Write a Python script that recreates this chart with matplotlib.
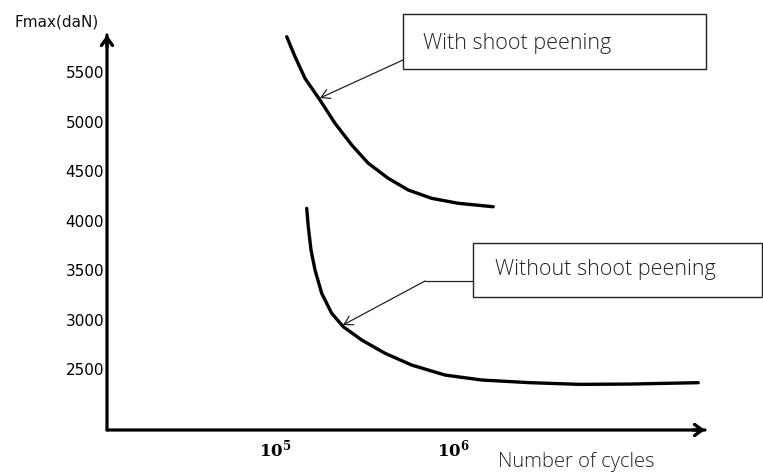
import matplotlib
matplotlib.use("Agg")
import matplotlib.pyplot as plt
from matplotlib.patches import Rectangle

# ---- data ----
with_cycles = [116350, 129600, 147400, 178900, 217400, 269700, 334400,
               433000, 561000, 759000, 1071000, 1684000]
with_force = [5857, 5655, 5436, 5217, 4982, 4763, 4578, 4426, 4308, 4224,
              4174, 4139]

without_cycles = [150700, 153800, 159300, 167800, 182900, 208200, 241900,
                  307000, 415000, 586000, 902000, 1449000, 2707000, 5170000,
                  9872000, 23880000]
without_force = [4123, 3937, 3702, 3500, 3265, 3063, 2927, 2793, 2659, 2540,
                 2439, 2389, 2362, 2345, 2348, 2362]

y_ticks = [2500, 3000, 3500, 4000, 4500, 5000, 5500]
x_ticks = [1e5, 1e6]
x_tick_labels = [r"$\mathbf{10^5}$", r"$\mathbf{10^6}$"]

label_with = "With shoot peening"
label_without = "Without shoot peening"

W, H = 763, 472
fig = plt.figure(figsize=(W / 100, H / 100), dpi=100)
plt.rcParams["mathtext.fontset"] = "dejavuserif"

def fx(px):
    return px / W

def fy(py):
    return 1 - py / H

left, right, top, bottom = 107, 705, 35, 430
ax = fig.add_axes([fx(left), fy(bottom), fx(right) - fx(left), fy(top) - fy(bottom)])
ax.set_xscale("log")
ax.set_xlim(10 ** 4.056, 10 ** 7.416)
ax.set_ylim(1884, 5874)
for s in ax.spines.values():
    s.set_visible(False)
ax.set_facecolor("none")

ax.plot(with_cycles, with_force, color="black", lw=2.4, solid_capstyle="round",
        solid_joinstyle="round")
ax.plot(without_cycles, without_force, color="black", lw=2.4, solid_capstyle="round",
        solid_joinstyle="round")

ax.set_yticks(y_ticks)
ax.set_yticklabels([str(v) for v in y_ticks], fontsize=11, family="DejaVu Sans")
ax.set_xticks(x_ticks)
ax.set_xticklabels(x_tick_labels, fontsize=12)
ax.xaxis.set_minor_locator(matplotlib.ticker.NullLocator())
ax.tick_params(axis="y", length=0, pad=2)
ax.tick_params(axis="x", length=0, pad=6)

# axis arrows
ax.annotate("", xy=(0, 1.0), xytext=(0, 0), xycoords="axes fraction",
            arrowprops=dict(arrowstyle="-", lw=2.3, color="black", shrinkA=0, shrinkB=0))
ax.annotate("", xy=(1.0, 0), xytext=(0, 0), xycoords="axes fraction",
            arrowprops=dict(arrowstyle="-", lw=2.3, color="black", shrinkA=0, shrinkB=0))
ax.annotate("", xy=(0, 1.0), xytext=(0, 0.97), xycoords="axes fraction",
            arrowprops=dict(arrowstyle="->,head_length=0.55,head_width=0.4", lw=2.4,
                            color="black", shrinkA=0, shrinkB=0))
ax.annotate("", xy=(1.0, 0), xytext=(0.98, 0), xycoords="axes fraction",
            arrowprops=dict(arrowstyle="->,head_length=0.55,head_width=0.4", lw=2.4,
                            color="black", shrinkA=0, shrinkB=0))

fig.text(fx(15), fy(22), "Fmax(daN)", fontsize=11, family="DejaVu Sans",
         va="center", ha="left", color="#111111")
fig.text(fx(498), fy(462), "Number of cycles", fontsize=14.5, family="Open Sans",
         fontweight="light", va="center", ha="left", color="#222222")

# annotation boxes
fig.patches.append(Rectangle((fx(403), fy(69)), fx(706) - fx(403), fy(14) - fy(69),
                             transform=fig.transFigure, fill=False, lw=1.0,
                             edgecolor="#222222"))
fig.text(fx(423), fy(43), label_with, fontsize=15.5, family="Open Sans",
         fontweight="light", va="center", ha="left", color="#222222")
fig.patches.append(Rectangle((fx(473), fy(297)), fx(762) - fx(473), fy(243) - fy(297),
                             transform=fig.transFigure, fill=False, lw=1.0,
                             edgecolor="#222222"))
fig.text(fx(495), fy(269), label_without, fontsize=15.5, family="Open Sans",
         fontweight="light", va="center", ha="left", color="#222222")

# leader arrows
fig.add_artist(matplotlib.patches.FancyArrowPatch(
    (fx(403), fy(60)), (fx(320), fy(98)), transform=fig.transFigure,
    arrowstyle="->,head_length=6,head_width=3.5", lw=0.9, color="#222222",
    shrinkA=0, shrinkB=0))
fig.add_artist(matplotlib.lines.Line2D([fx(473), fx(425)], [fy(281), fy(281)],
                                       transform=fig.transFigure, lw=0.9, color="#222222"))
fig.add_artist(matplotlib.patches.FancyArrowPatch(
    (fx(425), fy(281)), (fx(343), fy(325)), transform=fig.transFigure,
    arrowstyle="->,head_length=6,head_width=3.5", lw=0.9, color="#222222",
    shrinkA=0, shrinkB=0))

fig.savefig("out.png", dpi=100)
